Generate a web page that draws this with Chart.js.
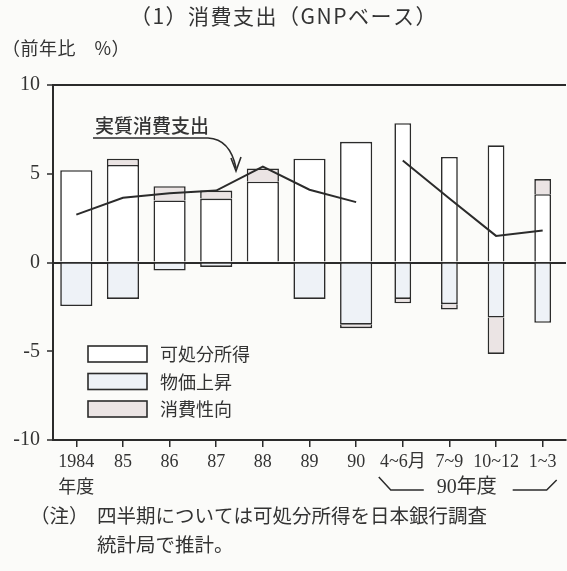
<!DOCTYPE html>
<html><head><meta charset="utf-8">
<script src="https://cdn.jsdelivr.net/npm/chart.js@4/dist/chart.umd.min.js"></script>
<style>html,body{margin:0;padding:0;background:#fbfbf9;} #wrap{width:567px;height:571px;position:relative;}</style>
</head><body><div id="wrap"><canvas id="c"></canvas></div>
<script>
// ---- data ----
const categories = [["1984","年度"],"85","86","87","88","89","90","4~6月","7~9","10~12","1~3"];
const isQuarter = [false,false,false,false,false,false,false,true,true,true,true];
const disposableIncome = [5.2,5.5,3.5,3.6,4.55,5.85,6.8,7.85,5.95,6.6,3.85];
const priceRise        = [-2.45,-2.05,-0.45,-0.25,0,-2.05,-3.5,-2.05,-2.35,-3.1,-3.4];
const propensity       = [0,0.35,0.8,0.45,0.75,0,-0.2,-0.25,-0.3,-2.05,0.85];
const realConsumption  = [2.7,3.65,3.9,4.05,5.4,4.1,3.4,5.75,3.6,1.5,1.8];
const seriesNames = ["可処分所得","物価上昇","消費性向"];
const lineName = "実質消費支出";
const yTicks = [-10,-5,0,5,10];
const titleText = "（1）消費支出（GNPベース）";
const unitText = "（前年比　%）";
const quarterGroupText = "90年度";
const noteHead = "（注）";
const noteLines = ["四半期については可処分所得を日本銀行調査","統計局で推計。"];

// ---- build ----
const INK = '#2b2b2b';
const fills = ['#ffffff','#eef2f7','#ebe4e4'];
const seriesData = [disposableIncome, priceRise, propensity];
function part(arr, q){ return arr.map((v,i)=> (isQuarter[i]===q && v!==0) ? v : null); }
const datasets = [];
[false,true].forEach(q=>{
  seriesData.forEach((arr,k)=>{
    datasets.push({type:'bar', label: seriesNames[k], data: part(arr,q),
      backgroundColor: fills[k], borderColor: INK, borderWidth: 1.6,
      barPercentage: q ? 0.36 : 0.69, categoryPercentage: 1, stack:'bars', order: 2});
  });
});
[false,true].forEach((q,j)=>{
  datasets.push({type:'line', label: lineName, data: realConsumption.map((v,i)=> isQuarter[i]===q ? v : null),
    borderColor: INK, borderWidth: 2, pointRadius: 0, fill:false, tension:0, spanGaps:false,
    stack: 'line'+j, order: 0});
});

const JP = "'Noto Sans CJK JP', sans-serif";
const SERIF = "'Liberation Serif','Noto Sans CJK JP', serif";

const deco = {
  id:'deco',
  afterDraw(chart){
    const ctx = chart.ctx, ca = chart.chartArea, xs = chart.scales.x;
    ctx.save();
    ctx.fillStyle = '#333'; ctx.strokeStyle = INK;
    // title
    ctx.font = "21px " + JP; ctx.textAlign='center'; ctx.textBaseline='middle';
    ctx.letterSpacing = '1.5px';
    ctx.fillText(titleText, 284, 16);
    ctx.letterSpacing = '0.5px';
    // unit
    ctx.font = "18px " + JP; ctx.textAlign='left';
    ctx.fillText(unitText, 2, 48);
    ctx.letterSpacing = '0px';
    // line annotation
    ctx.font = "500 19px " + JP; ctx.textAlign='left';
    ctx.fillText(lineName, ca.left+42, 126);
    ctx.lineWidth = 1.6;
    ctx.beginPath();
    ctx.moveTo(ca.left+40, 138); ctx.lineTo(ca.left+155, 138);
    ctx.quadraticCurveTo(ca.left+177, 139, ca.left+183, 168);
    ctx.stroke();
    ctx.beginPath();
    ctx.moveTo(ca.left+178, 158); ctx.lineTo(ca.left+183, 171); ctx.lineTo(ca.left+188, 157);
    ctx.stroke();
    // legend
    const lx = ca.left+35, ly0 = 346;
    ctx.font = "18px " + JP; ctx.textBaseline='middle';
    seriesNames.forEach((n,k)=>{
      const y = ly0 + k*27.5;
      ctx.fillStyle = fills[k]; ctx.fillRect(lx, y, 59, 16);
      ctx.lineWidth = 1.6; ctx.strokeRect(lx, y, 59, 16);
      ctx.fillStyle = '#333'; ctx.fillText(n, lx+72, y+8.5);
    });
    // quarter bracket
    const qi = isQuarter.indexOf(true), qj = isQuarter.lastIndexOf(true);
    const xa = xs.getPixelForValue(qi), xb = xs.getPixelForValue(qj);
    ctx.lineWidth = 1.5;
    ctx.beginPath();
    ctx.moveTo(xa-24, 477); ctx.lineTo(xa-12, 490); ctx.lineTo(xa+21, 490);
    ctx.moveTo(xb-30, 490); ctx.lineTo(xb+4, 490); ctx.lineTo(xb+14, 480);
    ctx.stroke();
    ctx.font = "20px " + SERIF; ctx.textAlign='center';
    ctx.fillText(quarterGroupText, (xa+xb)/2 - 6, 488);
    // note
    ctx.font = "19.5px " + JP; ctx.textAlign='left';
    ctx.fillText(noteHead, 30, 516);
    ctx.fillText(noteLines[0], 97, 516);
    ctx.fillText(noteLines[1], 97, 545);
    ctx.restore();
  }
};

new Chart(document.getElementById('c'), {
  data: { labels: categories, datasets },
  options: {
    responsive: true, maintainAspectRatio: false, animation: false,
    layout: { padding: { top: 85, right: 1, left: 0, bottom: 0 } },
    plugins: { legend: { display:false }, tooltip: { enabled:false }, title:{display:false} },
    scales: {
      x: { stacked: true, offset: true,
        grid: { offset:false, drawOnChartArea:false, tickLength:7, color: INK, lineWidth:1.5 },
        border: { color: INK, width: 2 },
        ticks: { color:'#333', font:{ family: SERIF, size:18, lineHeight:1.45 }, padding:2, maxRotation:0, autoSkip:false },
        afterFit: s => { s.height = 131; } },
      y: { stacked: true, min:-10, max:10,
        afterBuildTicks: s => { s.ticks = yTicks.map(v=>({value:v})); },
        grid: { color: c => (c.tick && (c.tick.value===0 || c.tick.value===10)) ? INK : 'rgba(0,0,0,0)',
                lineWidth: 2, tickColor: INK, tickLength: 6, tickWidth: 1.5 },
        border: { color: INK, width: 2 },
        ticks: { color:'#333', font:{ family: SERIF, size:20 }, padding:7 },
        afterFit: s => { s.width = 53; } }
    }
  },
  plugins: [deco]
});
</script>
</body></html>
